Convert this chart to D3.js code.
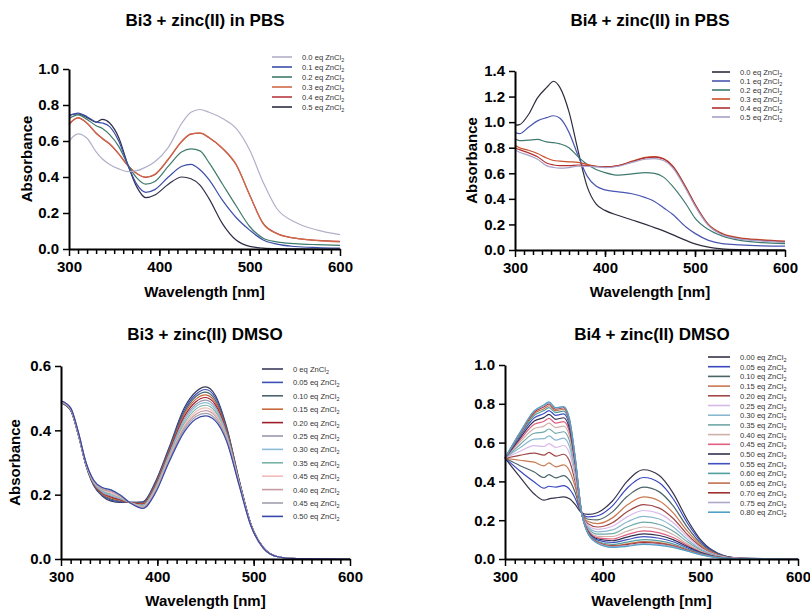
<!DOCTYPE html>
<html>
<head>
<meta charset="utf-8">
<script src="https://cdn.jsdelivr.net/npm/d3@7"></script>
<style>
  body { margin: 0; background: #fff; }
  text { font-family: "Liberation Sans", Arial, sans-serif; }
  .title { font-size: 17px; font-weight: bold; }
  .axis-title { font-size: 15px; font-weight: bold; }
  .axis text { font-size: 15px; font-weight: bold; fill: #000; font-family: "Liberation Sans", Arial, sans-serif; }
  .axis .domain { stroke: #000; stroke-width: 2; }
  .axis .tick line { stroke: #000; stroke-width: 1.5; }
  .legend text { font-size: 7.6px; fill: #333; }
</style>
</head>
<body>
<div class="chart"></div>
<script>
// ---------- Bi3 + zinc(II) in PBS ----------
var wlBi3Pbs = [300, 310, 320, 330, 337, 345, 355, 365, 375, 385, 395, 410, 425, 435, 445, 455, 470, 485, 500, 515, 530, 550, 575, 600];
var labelsBi3Pbs = ["0.0", "0.1", "0.2", "0.3", "0.4", "0.5"];
var bi3Pbs00 = [0.60, 0.64, 0.615, 0.54, 0.50, 0.47, 0.445, 0.43, 0.435, 0.455, 0.485, 0.565, 0.70, 0.76, 0.775, 0.76, 0.725, 0.67, 0.55, 0.37, 0.225, 0.15, 0.105, 0.08];
var bi3Pbs01 = [0.74, 0.755, 0.735, 0.705, 0.70, 0.68, 0.60, 0.47, 0.36, 0.315, 0.33, 0.40, 0.46, 0.47, 0.44, 0.385, 0.27, 0.175, 0.105, 0.05, 0.027, 0.014, 0.008, 0.005];
var bi3Pbs02 = [0.725, 0.745, 0.72, 0.685, 0.67, 0.635, 0.57, 0.47, 0.395, 0.36, 0.375, 0.46, 0.54, 0.556, 0.545, 0.48, 0.36, 0.24, 0.125, 0.06, 0.04, 0.03, 0.024, 0.02];
var bi3Pbs03 = [0.69, 0.73, 0.70, 0.645, 0.615, 0.585, 0.53, 0.465, 0.42, 0.40, 0.415, 0.50, 0.60, 0.64, 0.645, 0.62, 0.56, 0.47, 0.30, 0.14, 0.085, 0.06, 0.047, 0.04];
var bi3Pbs04 = [0.695, 0.728, 0.698, 0.643, 0.613, 0.583, 0.528, 0.464, 0.42, 0.398, 0.413, 0.498, 0.598, 0.638, 0.643, 0.618, 0.558, 0.468, 0.30, 0.142, 0.087, 0.06, 0.048, 0.042];
var bi3Pbs05 = [0.745, 0.75, 0.73, 0.705, 0.72, 0.70, 0.62, 0.47, 0.345, 0.285, 0.30, 0.36, 0.40, 0.39, 0.355, 0.28, 0.14, 0.05, 0.015, 0.005, 0.002, 0.001, 0, 0];
var yTicksBi3Pbs = [0, 0.2, 0.4, 0.6, 0.8, 1.0];

// ---------- Bi4 + zinc(II) in PBS ----------
var wlBi4Pbs = [300, 305, 315, 325, 335, 343, 350, 360, 370, 380, 390, 400, 415, 430, 445, 455, 465, 475, 490, 500, 515, 530, 550, 575, 600];
var labelsBi4Pbs = ["0.0", "0.1", "0.2", "0.3", "0.4", "0.5"];
var bi4Pbs00 = [0.975, 0.98, 1.06, 1.19, 1.27, 1.32, 1.27, 1.08, 0.78, 0.50, 0.36, 0.31, 0.27, 0.235, 0.20, 0.175, 0.15, 0.12, 0.075, 0.048, 0.022, 0.009, 0.003, 0.001, 0];
var bi4Pbs01 = [0.92, 0.91, 0.96, 1.01, 1.035, 1.05, 1.03, 0.92, 0.74, 0.58, 0.50, 0.47, 0.455, 0.44, 0.41, 0.38, 0.33, 0.28, 0.18, 0.13, 0.075, 0.05, 0.04, 0.033, 0.03];
var bi4Pbs02 = [0.87, 0.855, 0.86, 0.865, 0.845, 0.84, 0.83, 0.80, 0.73, 0.67, 0.63, 0.605, 0.585, 0.595, 0.605, 0.60, 0.57, 0.50, 0.36, 0.25, 0.16, 0.11, 0.075, 0.058, 0.05];
var bi4Pbs03 = [0.82, 0.80, 0.78, 0.755, 0.72, 0.70, 0.695, 0.69, 0.685, 0.67, 0.655, 0.65, 0.66, 0.695, 0.725, 0.73, 0.715, 0.66, 0.49, 0.36, 0.20, 0.13, 0.095, 0.08, 0.07];
var bi4Pbs04 = [0.80, 0.785, 0.76, 0.73, 0.68, 0.665, 0.66, 0.66, 0.665, 0.66, 0.655, 0.65, 0.66, 0.69, 0.72, 0.727, 0.712, 0.655, 0.485, 0.355, 0.195, 0.125, 0.09, 0.075, 0.065];
var bi4Pbs05 = [0.78, 0.765, 0.74, 0.71, 0.66, 0.645, 0.64, 0.645, 0.655, 0.655, 0.65, 0.645, 0.655, 0.685, 0.71, 0.715, 0.70, 0.645, 0.475, 0.345, 0.19, 0.12, 0.085, 0.07, 0.06];
var yTicksBi4Pbs = [0, 0.2, 0.4, 0.6, 0.8, 1.0, 1.2, 1.4];

// ---------- Bi3 + zinc(II) DMSO ----------
var wlBi3Dmso = [300, 310, 318, 326, 334, 343, 352, 362, 372, 385, 398, 412, 428, 440, 450, 460, 472, 485, 497, 510, 525, 545, 600];
var labelsBi3Dmso = ["0", "0.05", "0.10", "0.15", "0.20", "0.25", "0.30", "0.35", "0.45", "0.40", "0.45", "0.50"];
var bi3Dmso00 = [0.485, 0.462, 0.385, 0.290, 0.228, 0.195, 0.180, 0.176, 0.176, 0.178, 0.240, 0.345, 0.470, 0.520, 0.535, 0.510, 0.410, 0.245, 0.110, 0.035, 0.007, 0.001, 0];
var bi3Dmso01 = [0.486, 0.463, 0.386, 0.291, 0.230, 0.197, 0.183, 0.178, 0.176, 0.176, 0.237, 0.341, 0.463, 0.512, 0.527, 0.503, 0.406, 0.243, 0.109, 0.035, 0.007, 0.001, 0];
var bi3Dmso02 = [0.486, 0.463, 0.387, 0.292, 0.231, 0.200, 0.186, 0.180, 0.176, 0.174, 0.234, 0.337, 0.456, 0.505, 0.519, 0.495, 0.402, 0.242, 0.109, 0.035, 0.007, 0.001, 0];
var bi3Dmso03 = [0.487, 0.464, 0.388, 0.293, 0.233, 0.202, 0.190, 0.182, 0.175, 0.172, 0.230, 0.333, 0.450, 0.497, 0.510, 0.488, 0.398, 0.240, 0.108, 0.035, 0.007, 0.001, 0];
var bi3Dmso04 = [0.488, 0.465, 0.389, 0.294, 0.234, 0.205, 0.193, 0.184, 0.175, 0.170, 0.227, 0.329, 0.443, 0.489, 0.502, 0.481, 0.394, 0.239, 0.108, 0.035, 0.007, 0.001, 0];
var bi3Dmso05 = [0.488, 0.466, 0.390, 0.295, 0.236, 0.207, 0.196, 0.186, 0.175, 0.168, 0.224, 0.325, 0.436, 0.481, 0.494, 0.474, 0.390, 0.237, 0.107, 0.035, 0.007, 0.001, 0];
var bi3Dmso06 = [0.489, 0.466, 0.390, 0.295, 0.237, 0.210, 0.199, 0.188, 0.175, 0.167, 0.221, 0.320, 0.429, 0.474, 0.486, 0.466, 0.385, 0.236, 0.107, 0.034, 0.007, 0.001, 0];
var bi3Dmso07 = [0.489, 0.467, 0.391, 0.296, 0.239, 0.212, 0.202, 0.190, 0.175, 0.165, 0.218, 0.316, 0.422, 0.466, 0.478, 0.459, 0.381, 0.234, 0.106, 0.034, 0.007, 0.001, 0];
var bi3Dmso08 = [0.490, 0.468, 0.392, 0.297, 0.240, 0.215, 0.205, 0.192, 0.175, 0.163, 0.215, 0.312, 0.415, 0.458, 0.470, 0.452, 0.377, 0.233, 0.106, 0.034, 0.007, 0.001, 0];
var bi3Dmso09 = [0.491, 0.469, 0.393, 0.298, 0.242, 0.217, 0.209, 0.194, 0.174, 0.161, 0.211, 0.308, 0.409, 0.450, 0.461, 0.445, 0.373, 0.231, 0.105, 0.034, 0.007, 0.001, 0];
var bi3Dmso10 = [0.491, 0.469, 0.394, 0.299, 0.243, 0.220, 0.212, 0.196, 0.174, 0.159, 0.208, 0.304, 0.402, 0.443, 0.453, 0.437, 0.369, 0.230, 0.105, 0.034, 0.007, 0.001, 0];
var bi3Dmso11 = [0.492, 0.470, 0.395, 0.300, 0.245, 0.222, 0.215, 0.198, 0.174, 0.157, 0.205, 0.300, 0.395, 0.435, 0.445, 0.430, 0.365, 0.228, 0.104, 0.034, 0.007, 0.001, 0];
var yTicksBi3Dmso = [0, 0.2, 0.4, 0.6];

// ---------- Bi4 + zinc(II) DMSO ----------
var wlBi4Dmso = [300, 315, 330, 340, 345, 352, 360, 366, 372, 378, 385, 395, 410, 425, 442, 458, 472, 487, 502, 518, 540, 600];
var labelsBi4Dmso = ["0.00", "0.05", "0.10", "0.15", "0.20", "0.25", "0.30", "0.35", "0.40", "0.45", "0.50", "0.55", "0.60", "0.65", "0.70", "0.75", "0.80"];
var bi4Dmso00 = [0.52, 0.425, 0.335, 0.303, 0.31, 0.315, 0.32, 0.31, 0.28, 0.24, 0.23, 0.24, 0.299, 0.40, 0.46, 0.43, 0.341, 0.20, 0.089, 0.03, 0.005, 0];
var bi4Dmso01 = [0.52, 0.455, 0.397, 0.365, 0.375, 0.37, 0.378, 0.36, 0.311, 0.24, 0.217, 0.223, 0.274, 0.365, 0.42, 0.393, 0.312, 0.183, 0.082, 0.028, 0.004, 0];
var bi4Dmso02 = [0.52, 0.482, 0.448, 0.42, 0.435, 0.418, 0.43, 0.405, 0.34, 0.242, 0.205, 0.202, 0.243, 0.322, 0.37, 0.346, 0.275, 0.162, 0.073, 0.025, 0.004, 0];
var bi4Dmso03 = [0.52, 0.509, 0.499, 0.48, 0.495, 0.475, 0.485, 0.455, 0.369, 0.243, 0.193, 0.182, 0.212, 0.278, 0.32, 0.299, 0.239, 0.142, 0.064, 0.022, 0.003, 0];
var bi4Dmso04 = [0.52, 0.534, 0.546, 0.535, 0.55, 0.53, 0.54, 0.505, 0.395, 0.244, 0.182, 0.165, 0.187, 0.243, 0.28, 0.262, 0.21, 0.125, 0.057, 0.019, 0.003, 0];
var bi4Dmso05 = [0.52, 0.554, 0.584, 0.58, 0.595, 0.575, 0.585, 0.545, 0.417, 0.245, 0.173, 0.153, 0.169, 0.217, 0.25, 0.234, 0.188, 0.113, 0.052, 0.018, 0.003, 0];
var bi4Dmso06 = [0.52, 0.572, 0.618, 0.62, 0.635, 0.613, 0.623, 0.58, 0.436, 0.246, 0.165, 0.14, 0.15, 0.191, 0.22, 0.206, 0.166, 0.10, 0.046, 0.016, 0.002, 0];
var bi4Dmso07 = [0.52, 0.588, 0.648, 0.655, 0.67, 0.648, 0.656, 0.61, 0.453, 0.247, 0.158, 0.128, 0.131, 0.165, 0.19, 0.178, 0.144, 0.088, 0.041, 0.014, 0.002, 0];
var bi4Dmso08 = [0.52, 0.601, 0.673, 0.685, 0.70, 0.677, 0.685, 0.635, 0.467, 0.248, 0.152, 0.117, 0.116, 0.143, 0.165, 0.154, 0.126, 0.077, 0.036, 0.012, 0.002, 0];
var bi4Dmso09 = [0.52, 0.612, 0.694, 0.71, 0.725, 0.70, 0.708, 0.655, 0.479, 0.249, 0.147, 0.109, 0.103, 0.126, 0.145, 0.135, 0.111, 0.069, 0.033, 0.011, 0.002, 0];
var bi4Dmso10 = [0.52, 0.621, 0.711, 0.73, 0.745, 0.72, 0.728, 0.672, 0.489, 0.25, 0.143, 0.103, 0.094, 0.113, 0.13, 0.121, 0.10, 0.063, 0.03, 0.01, 0.001, 0];
var bi4Dmso11 = [0.52, 0.63, 0.728, 0.75, 0.765, 0.74, 0.748, 0.69, 0.498, 0.251, 0.139, 0.097, 0.085, 0.10, 0.115, 0.107, 0.089, 0.057, 0.027, 0.009, 0.001, 0];
var bi4Dmso12 = [0.52, 0.637, 0.741, 0.765, 0.78, 0.755, 0.762, 0.70, 0.505, 0.252, 0.136, 0.09, 0.075, 0.087, 0.10, 0.093, 0.078, 0.05, 0.025, 0.008, 0.001, 0];
var bi4Dmso13 = [0.52, 0.642, 0.75, 0.775, 0.79, 0.764, 0.772, 0.71, 0.51, 0.253, 0.134, 0.086, 0.069, 0.078, 0.09, 0.084, 0.071, 0.046, 0.023, 0.008, 0.001, 0];
var bi4Dmso14 = [0.52, 0.646, 0.758, 0.785, 0.80, 0.772, 0.78, 0.715, 0.514, 0.254, 0.132, 0.084, 0.066, 0.074, 0.085, 0.079, 0.067, 0.044, 0.022, 0.008, 0.001, 0];
var bi4Dmso15 = [0.52, 0.648, 0.762, 0.79, 0.805, 0.776, 0.784, 0.72, 0.517, 0.255, 0.131, 0.082, 0.063, 0.069, 0.08, 0.075, 0.064, 0.042, 0.021, 0.007, 0.001, 0];
var bi4Dmso16 = [0.52, 0.65, 0.765, 0.795, 0.81, 0.78, 0.786, 0.725, 0.52, 0.255, 0.13, 0.08, 0.06, 0.065, 0.075, 0.07, 0.06, 0.04, 0.02, 0.007, 0.001, 0];
var yTicksBi4Dmso = [0, 0.2, 0.4, 0.6, 0.8, 1.0];

var xMajorTicks = [300, 400, 500, 600];

// line colours (styles, kept apart from the data)
var colorsBi3Pbs = ["#b2b0c8", "#3c4ea8", "#3f7a6c", "#d06a48", "#b83a40", "#2e2e48"];
var colorsBi4Pbs = ["#2e2e3e", "#4a56b0", "#3f7a70", "#c8502a", "#b03030", "#a8a0c8"];
var colorsBi3Dmso = ["#3a3a5c", "#3a50b8", "#4a6470", "#c8683c", "#a01e2c", "#9a96ae", "#8cbcd8", "#78b4a4", "#f2bcb8", "#c89aa4", "#a0a0ae", "#3848a8"];
var colorsBi4Dmso = ["#34344a", "#3a48c0", "#4a6468", "#c87850", "#a04848", "#d8b8e8", "#8ab8d0", "#70a8a8", "#d0b0a8", "#e06080", "#303050", "#4050c0", "#50a0a0", "#c07050", "#a03030", "#b0a8c8", "#50a0c8"];

var svg = d3.select(".chart").append("svg")
  .attr("width", 810)
  .attr("height", 610);

var panels = [
  { title: "Bi3 + zinc(II) in PBS", wl: wlBi3Pbs, labels: labelsBi3Pbs, colors: colorsBi3Pbs,
    series: [bi3Pbs00, bi3Pbs01, bi3Pbs02, bi3Pbs03, bi3Pbs04, bi3Pbs05], yTicks: yTicksBi3Pbs, yMax: 1.0,
    x0: 69, x1: 340, y0: 249, y1: 69, titleX: 205, titleY: 26, yTitleX: 27, xTitleY: 297, showYTitle: true,
    legX: 272, legY: 57, legDy: 10, legLen: 20, reverse: true },
  { title: "Bi4 + zinc(II) in PBS", wl: wlBi4Pbs, labels: labelsBi4Pbs, colors: colorsBi4Pbs,
    series: [bi4Pbs00, bi4Pbs01, bi4Pbs02, bi4Pbs03, bi4Pbs04, bi4Pbs05], yTicks: yTicksBi4Pbs, yMax: 1.4,
    x0: 515, x1: 785, y0: 250, y1: 71, titleX: 650, titleY: 26, yTitleX: 472, xTitleY: 297, showYTitle: true,
    legX: 712, legY: 72, legDy: 9, legLen: 18, reverse: false },
  { title: "Bi3 + zinc(II) DMSO", wl: wlBi3Dmso, labels: labelsBi3Dmso, colors: colorsBi3Dmso,
    series: [bi3Dmso00, bi3Dmso01, bi3Dmso02, bi3Dmso03, bi3Dmso04, bi3Dmso05, bi3Dmso06, bi3Dmso07, bi3Dmso08, bi3Dmso09, bi3Dmso10, bi3Dmso11],
    yTicks: yTicksBi3Dmso, yMax: 0.6,
    x0: 61, x1: 350, y0: 559, y1: 366, titleX: 205, titleY: 340, yTitleX: 15, xTitleY: 606, showYTitle: true,
    legX: 262, legY: 369, legDy: 13.4, legLen: 21, reverse: false },
  { title: "Bi4 + zinc(II) DMSO", wl: wlBi4Dmso, labels: labelsBi4Dmso, colors: colorsBi4Dmso,
    series: [bi4Dmso00, bi4Dmso01, bi4Dmso02, bi4Dmso03, bi4Dmso04, bi4Dmso05, bi4Dmso06, bi4Dmso07, bi4Dmso08, bi4Dmso09, bi4Dmso10, bi4Dmso11, bi4Dmso12, bi4Dmso13, bi4Dmso14, bi4Dmso15, bi4Dmso16],
    yTicks: yTicksBi4Dmso, yMax: 1.0,
    x0: 505, x1: 798, y0: 559, y1: 365, titleX: 652, titleY: 340, yTitleX: 0, xTitleY: 606, showYTitle: false,
    legX: 708, legY: 357, legDy: 9.7, legLen: 22, reverse: false }
];

panels.forEach(function(p) {
  var g = svg.append("g");

  var x = d3.scaleLinear().domain([300, 600]).range([p.x0, p.x1]);
  var y = d3.scaleLinear().domain([0, p.yMax]).range([p.y0, p.y1]);

  // spectra
  var line = d3.line()
    .x(d => x(d[0]))
    .y(d => y(d[1]))
    .curve(d3.curveMonotoneX);

  var order = d3.range(p.series.length);
  if (p.reverse) order.reverse();
  order.forEach(function(i) {
    var vals = p.series[i];
    g.append("path")
      .datum(p.wl.map((w, j) => [w, vals[j]]))
      .attr("fill", "none")
      .attr("stroke", p.colors[i])
      .attr("stroke-width", 1.2)
      .attr("d", line);
  });

  // minor x ticks every 10 nm
  g.append("g")
    .attr("class", "axis")
    .attr("transform", `translate(0, ${p.y0})`)
    .call(d3.axisBottom(x).tickValues(d3.range(310, 600, 10)).tickSize(5).tickSizeOuter(0).tickFormat(""))
    .select(".domain").remove();

  g.append("g")
    .attr("class", "axis")
    .attr("transform", `translate(0, ${p.y0})`)
    .call(d3.axisBottom(x).tickValues(xMajorTicks).tickSize(7).tickSizeOuter(0).tickPadding(5).tickFormat(d3.format("d")));

  g.append("g")
    .attr("class", "axis")
    .attr("transform", `translate(${p.x0}, 0)`)
    .call(d3.axisLeft(y).tickValues(p.yTicks).tickSize(6).tickSizeOuter(0).tickPadding(4).tickFormat(d3.format(".1f")));

  // titles
  g.append("text")
    .attr("class", "title")
    .attr("x", p.titleX)
    .attr("y", p.titleY)
    .attr("text-anchor", "middle")
    .text(p.title);

  g.append("text")
    .attr("class", "axis-title")
    .attr("x", (p.x0 + p.x1) / 2)
    .attr("y", p.xTitleY)
    .attr("text-anchor", "middle")
    .text("Wavelength [nm]");

  if (p.showYTitle) {
    g.append("text")
      .attr("class", "axis-title")
      .attr("transform", `translate(${p.yTitleX}, ${(p.y0 + p.y1) / 2}) rotate(-90)`)
      .attr("text-anchor", "middle")
      .attr("dy", "0.35em")
      .text("Absorbance");
  }

  // legend
  var leg = g.append("g").attr("class", "legend");
  p.labels.forEach(function(lab, i) {
    var ly = p.legY + i * p.legDy;
    leg.append("line")
      .attr("x1", p.legX)
      .attr("x2", p.legX + p.legLen)
      .attr("y1", ly)
      .attr("y2", ly)
      .attr("stroke", p.colors[i])
      .attr("stroke-width", 1.6);
    var t = leg.append("text")
      .attr("x", p.legX + p.legLen + 10)
      .attr("y", ly + 3);
    t.append("tspan").text(lab + " eq ZnCl");
    t.append("tspan").attr("dy", 2).attr("font-size", "5.5px").text("2");
  });
});
</script>
</body>
</html>
